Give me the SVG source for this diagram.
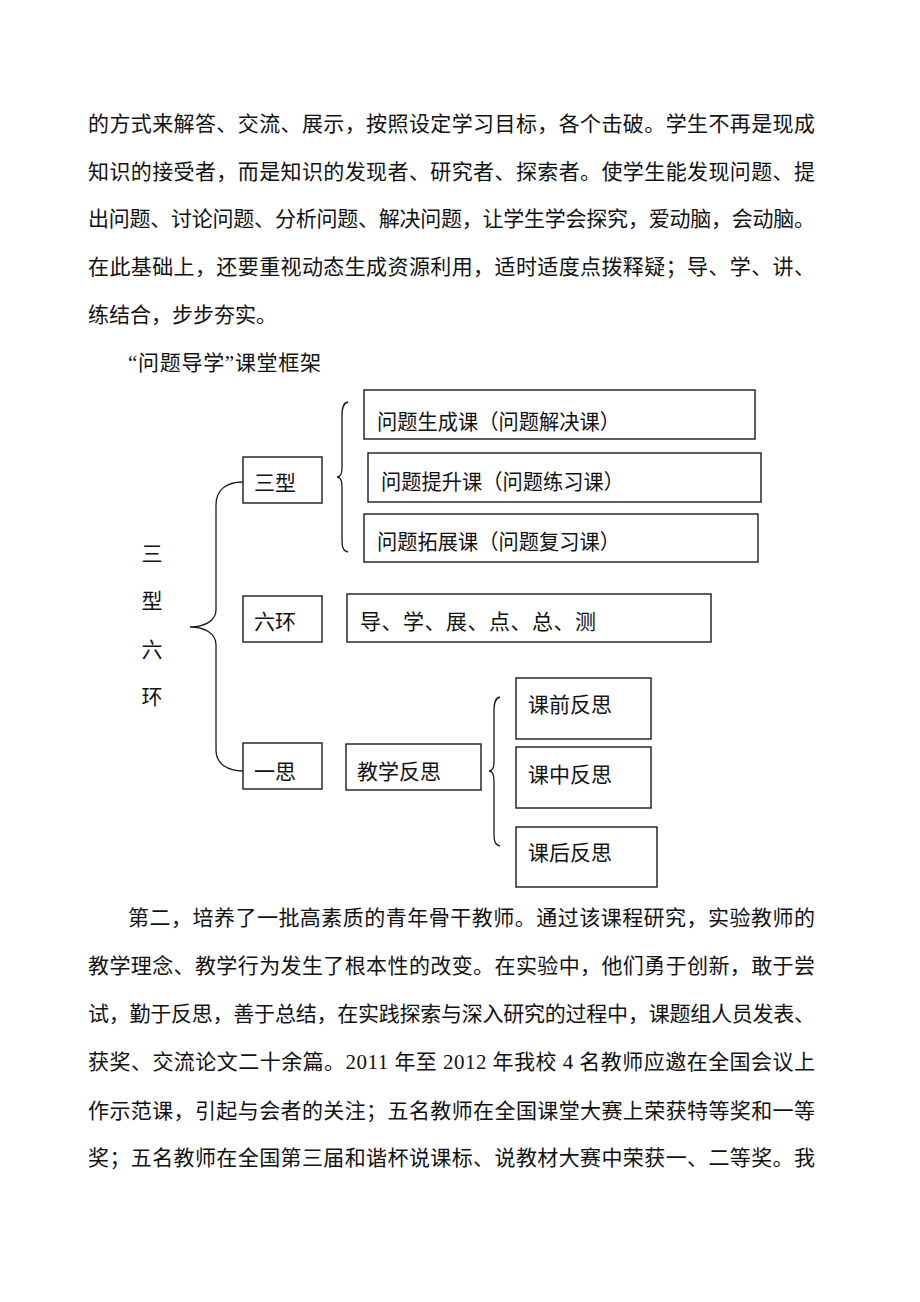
<svg xmlns="http://www.w3.org/2000/svg" width="920" height="1302" viewBox="0 0 920 1302">
<style>
.body{font-family:"Liberation Serif","Noto Sans CJK SC",serif;font-size:21px;fill:#111}
.lbl{font-family:"Noto Sans CJK SC",sans-serif;font-size:21px;fill:#111}
.box{fill:#fff;stroke:#1a1a1a;stroke-width:1.4}
.con{fill:none;stroke:#1a1a1a;stroke-width:1.3}
</style>
<rect x="0" y="0" width="920" height="1302" fill="#fff"/>
<g id="para1">
<text class="body" x="88" y="131" textLength="727" lengthAdjust="spacing">的方式来解答、交流、展示，按照设定学习目标，各个击破。学生不再是现成</text>
<text class="body" x="88" y="179" textLength="727" lengthAdjust="spacing">知识的接受者，而是知识的发现者、研究者、探索者。使学生能发现问题、提</text>
<text class="body" x="88" y="226" textLength="727" lengthAdjust="spacing">出问题、讨论问题、分析问题、解决问题，让学生学会探究，爱动脑，会动脑。</text>
<text class="body" x="88" y="274" textLength="727" lengthAdjust="spacing">在此基础上，还要重视动态生成资源利用，适时适度点拨释疑；导、学、讲、</text>
<text class="body" x="88" y="322">练结合，步步夯实。</text>
</g>
<g id="title">
<text class="body" x="128" y="370" textLength="193" lengthAdjust="spacing">“问题导学”课堂框架</text>
</g>
<g id="connectors">
<path class="con" d="M243,482 C226,482 216,490 216,505 L216,610 C216,621 204,627 190,627 C204,627 216,633 216,645 L216,750 C216,764 228,771 243,771"/>
<path class="con" d="M348,402 C343,403 342,408 342,416 L342,468 C342,474 340,477 337,477 C340,477 342,480 342,487 L342,540 C342,547 343,551 348,552"/>
<path class="con" d="M500,697 C495,698 494,703 494,711 L494,762 C494,768 492,771 489,771 C492,771 494,774 494,781 L494,834 C494,841 495,845 500,846"/>
</g>
<g id="root">
<text class="lbl" x="152" y="561" text-anchor="middle">三</text>
<text class="lbl" x="152" y="608" text-anchor="middle">型</text>
<text class="lbl" x="152" y="657" text-anchor="middle">六</text>
<text class="lbl" x="152" y="704" text-anchor="middle">环</text>
</g>
<g id="n-sanxing">
<rect class="box" x="243" y="457" width="79" height="46"/>
<text class="lbl" x="254" y="490">三型</text>
</g>
<g id="n-liuhuan">
<rect class="box" x="243" y="596" width="79" height="46"/>
<text class="lbl" x="254" y="629">六环</text>
</g>
<g id="n-yisi">
<rect class="box" x="243" y="743" width="79" height="46"/>
<text class="lbl" x="254" y="779">一思</text>
</g>
<g id="n-shengcheng">
<rect class="box" x="364" y="390" width="391" height="49"/>
<text class="lbl" x="377" y="429" textLength="243" lengthAdjust="spacingAndGlyphs">问题生成课（问题解决课）</text>
</g>
<g id="n-tisheng">
<rect class="box" x="368" y="453" width="393" height="49"/>
<text class="lbl" x="381" y="489" textLength="243" lengthAdjust="spacingAndGlyphs">问题提升课（问题练习课）</text>
</g>
<g id="n-tuozhan">
<rect class="box" x="364" y="514" width="394" height="48"/>
<text class="lbl" x="377" y="549" textLength="243" lengthAdjust="spacingAndGlyphs">问题拓展课（问题复习课）</text>
</g>
<g id="n-liubu">
<rect class="box" x="347" y="594" width="364" height="48"/>
<text class="lbl" x="360" y="629" textLength="236" lengthAdjust="spacing">导、学、展、点、总、测</text>
</g>
<g id="n-fansi">
<rect class="box" x="346" y="744" width="135" height="46"/>
<text class="lbl" x="357" y="779">教学反思</text>
</g>
<g id="n-keqian">
<rect class="box" x="516" y="678" width="135" height="61"/>
<text class="lbl" x="528" y="712">课前反思</text>
</g>
<g id="n-kezhong">
<rect class="box" x="516" y="747" width="135" height="61"/>
<text class="lbl" x="528" y="782">课中反思</text>
</g>
<g id="n-kehou">
<rect class="box" x="516" y="827" width="141" height="60"/>
<text class="lbl" x="528" y="860">课后反思</text>
</g>
<g id="para2">
<text class="body" x="128" y="925" textLength="687" lengthAdjust="spacing">第二，培养了一批高素质的青年骨干教师。通过该课程研究，实验教师的</text>
<text class="body" x="88" y="973" textLength="727" lengthAdjust="spacing">教学理念、教学行为发生了根本性的改变。在实验中，他们勇于创新，敢于尝</text>
<text class="body" x="88" y="1021" textLength="727" lengthAdjust="spacing">试，勤于反思，善于总结，在实践探索与深入研究的过程中，课题组人员发表、</text>
<text class="body" x="88" y="1069" textLength="727" lengthAdjust="spacing">获奖、交流论文二十余篇。2011 年至 2012 年我校 4 名教师应邀在全国会议上</text>
<text class="body" x="88" y="1118" textLength="727" lengthAdjust="spacing">作示范课，引起与会者的关注；五名教师在全国课堂大赛上荣获特等奖和一等</text>
<text class="body" x="88" y="1165" textLength="727" lengthAdjust="spacing">奖；五名教师在全国第三届和谐杯说课标、说教材大赛中荣获一、二等奖。我</text>
</g>
</svg>
